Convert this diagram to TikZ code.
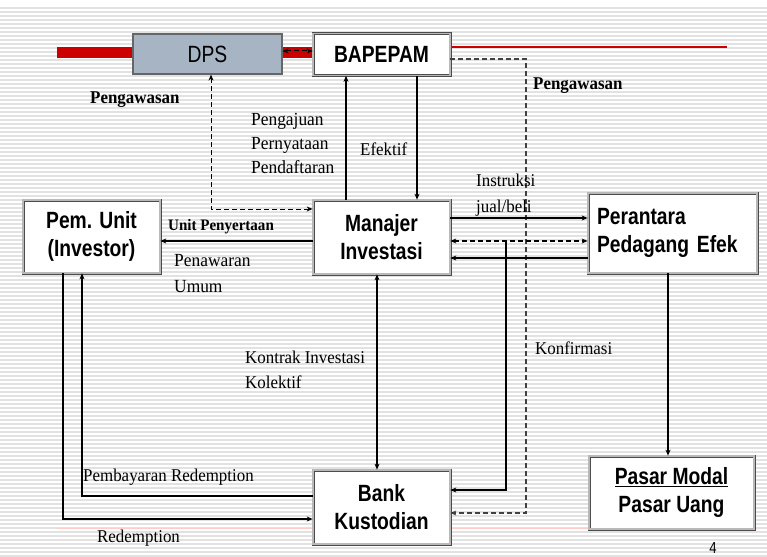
\documentclass[tikz,border=0pt]{standalone}
\usepackage{fontspec}
\setmainfont{Liberation Serif}[FakeStretch=0.94]
\newfontfamily\sfb{Liberation Sans}[FakeStretch=0.82]
\usetikzlibrary{arrows.meta}
\definecolor{dpsfill}{RGB}{166,180,196}
\definecolor{redbar}{RGB}{204,0,0}
\definecolor{stripe}{RGB}{226,226,226}
\begin{document}
\begin{tikzpicture}[x=1pt,y=-1pt,
  box/.style={draw=black!70, double=gray!55, double distance=1.6pt, line width=0.7pt,
    fill=white, inner sep=0pt, font=\sfb\bfseries\fontsize{23.5}{28}\selectfont, align=center},
  conn/.style={line width=1.2pt, -{Stealth[length=6pt,width=5pt]}},
  bconn/.style={line width=1.2pt, {Stealth[length=6pt,width=5pt]}-{Stealth[length=6pt,width=5pt]}},
  dsh/.style={dash pattern=on 5pt off 3pt},
  lab/.style={font=\fontsize{18}{25}\selectfont, anchor=west, align=left, inner sep=0pt},
  blab/.style={font=\bfseries\fontsize{18}{24}\selectfont, anchor=west, inner sep=0pt}]
\useasboundingbox (0,0) rectangle (767,556);
\fill[white] (0,0) rectangle (767,556);
\foreach \yy in {8,12,...,556} \draw[stripe,line width=1.8pt] (0,\yy) -- (767,\yy);
% decorative template lines
\draw[redbar, line width=11pt] (57,52.5) -- (313,52.5);
\draw[redbar, line width=1.2pt] (450,47) -- (727,47);
\draw[red!20, line width=1pt] (57,528) -- (757,528);
% nodes
\node[draw=black!60, line width=1.2pt, fill=dpsfill, minimum width=149pt, minimum height=40pt,
  font=\sfb\fontsize{23.5}{28}\selectfont] (dps) at (207.5,54) {DPS};
\node[box, minimum width=137pt, minimum height=42pt] (bapepam) at (381.5,54.5) {BAPEPAM};
\node[box, minimum width=137pt, minimum height=74pt] (manajer) at (381.5,237) {Manajer\\Investasi};
\node[box, minimum width=137pt, minimum height=73pt] (pem) at (91.5,236.5) {Pem. Unit\\(Investor)};
\node[box, minimum width=169pt, minimum height=80pt, align=left, text width=151pt] (perantara) at (672.5,233) {Perantara\\Pedagang Efek\\[4pt]};
\node[box, minimum width=165pt, minimum height=73pt] (pasar) at (671.5,492.5) {\underline{Pasar Modal}\\Pasar Uang};
\node[box, minimum width=137pt, minimum height=74pt] (bank) at (381.5,507) {Bank\\Kustodian};
% connectors
\draw[bconn, dsh, line width=1pt] (dps.east |- 0,51) -- (bapepam.west |- 0,51);
\draw[conn, dsh, black!75] (bapepam.east |- 0,59) -| (526,513) -- (bank.east |- 0,513);
\draw[bconn, dsh, line width=1pt] (dps.south -| 211,0) |- (manajer.west |- 0,209);
\draw[conn] (manajer.north -| 346,0) -- (bapepam.south -| 346,0);
\draw[conn] (bapepam.south -| 417,0) -- (manajer.north -| 417,0);
\draw[conn] (manajer.west |- 0,241) -- (pem.east |- 0,241);
\draw[conn] (manajer.east |- 0,218) -- (perantara.west |- 0,218);
\draw[bconn, dsh] (manajer.east |- 0,241) -- (perantara.west |- 0,241);
\draw[conn] (perantara.west |- 0,258) -- (manajer.east |- 0,258);
\coordinate (konf) at (506,241);
\draw[conn] (konf) |- (bank.east |- 0,490);
\draw[conn] (perantara.south -| 668,0) -- (pasar.north -| 668,0);
\draw[bconn] (manajer.south -| 377,0) -- (bank.north -| 377,0);
\draw[conn] (pem.south -| 63,0) |- (bank.west |- 0,519);
\draw[conn] (bank.west |- 0,496) -| (pem.south -| 82,0);
% labels
\node[blab] (l1) at (90,100) {Pengawasan};
\node[blab] (l2) at (533,86) {Pengawasan};
\node[lab, font=\fontsize{18.5}{24}\selectfont] (l3) at (251,143) {Pengajuan\\Pernyataan\\Pendaftaran};
\node[lab] (l4) at (360,149) {Efektif};
\node[blab, font=\bfseries\fontsize{16}{20}\selectfont] (l5) at (168,227) {Unit Penyertaan};
\node[lab, font=\fontsize{18.5}{26}\selectfont] (l6) at (174,274) {Penawaran\\Umum};
\node[lab, font=\fontsize{18}{26}\selectfont] (l7) at (476,195) {Instruksi\\jual/beli};
\node[lab] (l8) at (245,370) {Kontrak Investasi\\Kolektif};
\node[lab] (l9) at (535,348) {Konfirmasi};
\node[lab] (l10) at (83,477) {Pembayaran Redemption};
\node[lab] (l11) at (97,538) {Redemption};
\node[font=\sfb\fontsize{16}{18}\selectfont, inner sep=0pt] (pg) at (713,548) {4};
\end{tikzpicture}
\end{document}
